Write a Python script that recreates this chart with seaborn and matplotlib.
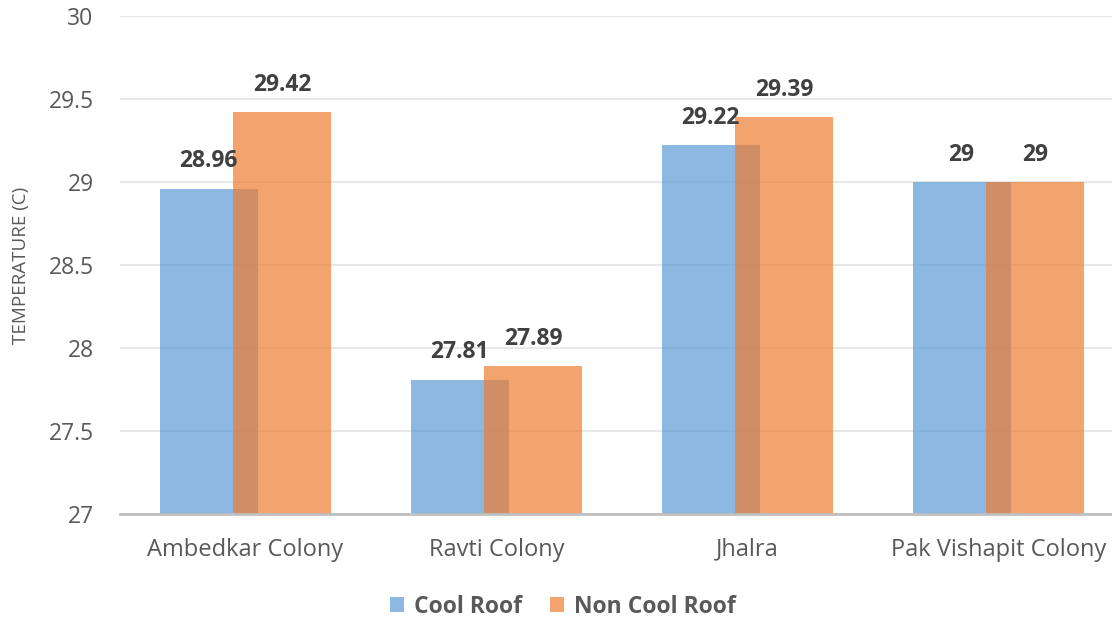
import matplotlib
matplotlib.use("Agg")
import matplotlib.pyplot as plt
from matplotlib.patches import Patch
import seaborn as sns
import pandas as pd

# Measured surface temperatures per colony
colonies = ["Ambedkar Colony", "Ravti Colony", "Jhalra", "Pak Vishapit Colony"]
cool_roof = [28.96, 27.81, 29.22, 29.00]
non_cool_roof = [29.42, 27.89, 29.39, 29.00]
series_names = ["Cool Roof", "Non Cool Roof"]
y_ticks = [27, 27.5, 28, 28.5, 29, 29.5, 30]

df = pd.DataFrame({
    "Colony": colonies * 2,
    "Roof": [series_names[0]] * len(colonies) + [series_names[1]] * len(colonies),
    "Temperature": cool_roof + non_cool_roof,
})

sns.set_style("white")
plt.rcParams["font.family"] = ["Open Sans", "DejaVu Sans"]

blue = "#5B9BD5"
orange = "#ED7D31"
tick_color = "#595959"
label_color = "#404040"

fig = plt.figure(figsize=(11.12, 6.2), dpi=100)
ax = fig.add_axes([120 / 1112, 106 / 620, 1004 / 1112, 498 / 620])

# Overlapping pair of bars per colony: dodge, then widen each bar past its slot
sns.barplot(
    data=df, x="Colony", y="Temperature", hue="Roof",
    palette=[blue, orange], saturation=1, width=0.588, gap=-0.327, dodge=True,
    alpha=0.7, linewidth=0, ax=ax, legend=False,
)

ax.set_ylim(27, 30)
ax.set_xlim(-0.5, 3.5)
ax.set_yticks(y_ticks)
ax.set_yticklabels([f"{t:g}" for t in y_ticks])
ax.yaxis.grid(True, color="#E8E8E8", linewidth=1.5)
ax.set_axisbelow(True)
for side in ["left", "right", "top"]:
    ax.spines[side].set_visible(False)
ax.spines["bottom"].set_color("#BFBFBF")
ax.spines["bottom"].set_linewidth(2)

ax.tick_params(axis="y", length=0, pad=19, labelsize=16.5, labelcolor=tick_color)
ax.tick_params(axis="x", length=0, pad=17, labelsize=17, labelcolor=tick_color)
ax.set_xlabel("")
ax.set_ylabel("TEMPERATURE (C)", fontsize=13.5, color=tick_color)
ax.yaxis.set_label_coords(-90 / 1004, 0.5)

for container in ax.containers:
    ax.bar_label(container, fmt="{:g}", padding=11, fontsize=16.5,
                 fontweight="bold", color=label_color)

handles = [Patch(facecolor=blue, alpha=0.7, edgecolor="none"),
           Patch(facecolor=orange, alpha=0.7, edgecolor="none")]
leg = fig.legend(handles, series_names, loc="center", bbox_to_anchor=(0.506, 0.021),
                 ncol=2, frameon=False, handlelength=0.62, handleheight=0.62,
                 handletextpad=0.45, columnspacing=1.2,
                 prop={"size": 16.5, "weight": "bold"})
for t in leg.get_texts():
    t.set_color(tick_color)

fig.savefig("out.png", dpi=100)
